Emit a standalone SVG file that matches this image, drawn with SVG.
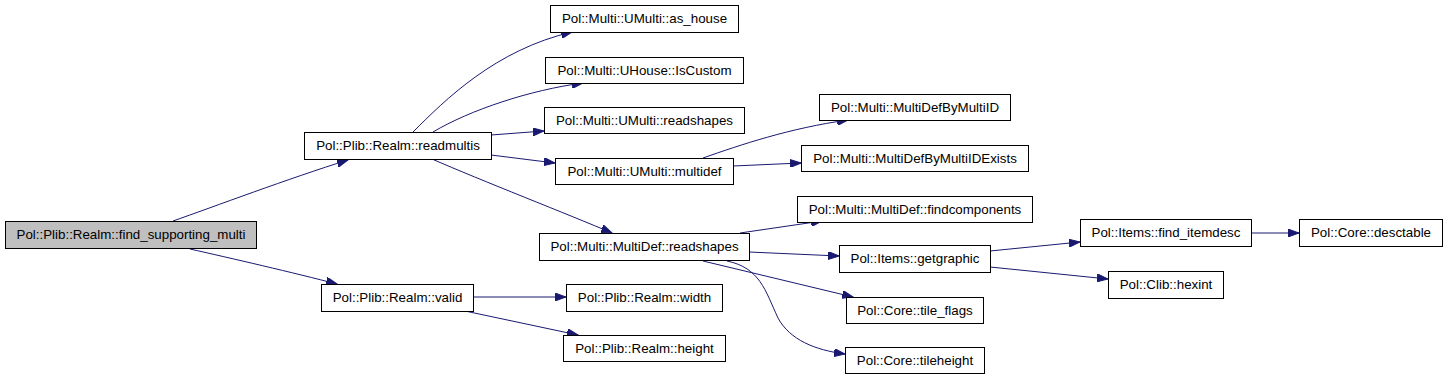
<svg xmlns="http://www.w3.org/2000/svg" width="1448" height="379" viewBox="0 0 1448 379">
<defs>
<style>
.n rect{fill:#ffffff;stroke:#000000;stroke-width:1}
.n.root rect{fill:#bfbfbf}
.n text{font-family:"Liberation Sans",Arial,sans-serif;font-size:13.33px;text-anchor:middle;fill:#000000}
.e path{fill:none;stroke:#191970;stroke-width:1;marker-end:url(#ah)}
</style>
<marker id="ah" markerUnits="userSpaceOnUse" markerWidth="12" markerHeight="8" refX="11" refY="4" orient="auto">
<path d="M0,0 L11,4 L0,8 z" fill="#191970" stroke="#191970" stroke-width="1"/>
</marker>
</defs>
<rect width="1448" height="379" fill="#ffffff"/>
<g id="edges" class="e">
<path d="M173,221 C213,207 290,178 348,160"/>
<path d="M190,249 C230,258 295,273 337,284"/>
<path d="M413,132 C445,100 495,50 572,32"/>
<path d="M433,132 C470,110 530,90 583,83"/>
<path d="M491,135 L544,131"/>
<path d="M491,155 L555,163"/>
<path d="M432,159 C480,180 570,215 612,233"/>
<path d="M473,297 L566,297"/>
<path d="M465,311 L578,335"/>
<path d="M703,158 C740,145 790,128 848,120"/>
<path d="M733,166 L801,163"/>
<path d="M740,233 L822,221"/>
<path d="M749,252 L839,256"/>
<path d="M703,261 L853,297"/>
<path d="M727,261 C760,268 765,290 778,318 C790,340 815,350 845,354"/>
<path d="M990,251 L1080,242"/>
<path d="M990,267 L1108,279"/>
<path d="M1251,233 L1299,233"/>
</g>
<g id="find_supporting_multi" class="n root"><rect x="5.5" y="221.5" width="251" height="27"/><text x="131" y="239">Pol::Plib::Realm::find_supporting_multi</text></g>
<g id="readmultis" class="n"><rect x="304.5" y="132.5" width="187" height="27"/><text x="398" y="150">Pol::Plib::Realm::readmultis</text></g>
<g id="as_house" class="n"><rect x="550.5" y="5.5" width="188" height="27"/><text x="644.5" y="23">Pol::Multi::UMulti::as_house</text></g>
<g id="IsCustom" class="n"><rect x="545.5" y="57.5" width="198" height="26"/><text x="644.5" y="75">Pol::Multi::UHouse::IsCustom</text></g>
<g id="umulti_readshapes" class="n"><rect x="544.5" y="107.5" width="200" height="26"/><text x="644.5" y="125">Pol::Multi::UMulti::readshapes</text></g>
<g id="multidef" class="n"><rect x="555.5" y="158.5" width="178" height="26"/><text x="644.5" y="176">Pol::Multi::UMulti::multidef</text></g>
<g id="multidef_readshapes" class="n"><rect x="539.5" y="233.5" width="210" height="27"/><text x="644.5" y="251">Pol::Multi::MultiDef::readshapes</text></g>
<g id="valid" class="n"><rect x="321.5" y="284.5" width="152" height="27"/><text x="397.5" y="302">Pol::Plib::Realm::valid</text></g>
<g id="width" class="n"><rect x="566.5" y="284.5" width="156" height="27"/><text x="644.5" y="302">Pol::Plib::Realm::width</text></g>
<g id="height" class="n"><rect x="563.5" y="335.5" width="162" height="26"/><text x="644.5" y="353">Pol::Plib::Realm::height</text></g>
<g id="MultiDefByMultiID" class="n"><rect x="819.5" y="94.5" width="191" height="26"/><text x="915" y="112">Pol::Multi::MultiDefByMultiID</text></g>
<g id="MultiDefByMultiIDExists" class="n"><rect x="801.5" y="145.5" width="227" height="26"/><text x="915" y="163">Pol::Multi::MultiDefByMultiIDExists</text></g>
<g id="findcomponents" class="n"><rect x="797.5" y="196.5" width="235" height="26"/><text x="915" y="214">Pol::Multi::MultiDef::findcomponents</text></g>
<g id="getgraphic" class="n"><rect x="839.5" y="245.5" width="151" height="27"/><text x="915" y="263">Pol::Items::getgraphic</text></g>
<g id="tile_flags" class="n"><rect x="846.5" y="297.5" width="137" height="26"/><text x="915" y="315">Pol::Core::tile_flags</text></g>
<g id="tileheight" class="n"><rect x="845.5" y="347.5" width="139" height="26"/><text x="915" y="365">Pol::Core::tileheight</text></g>
<g id="find_itemdesc" class="n"><rect x="1080.5" y="219.5" width="171" height="27"/><text x="1166" y="237">Pol::Items::find_itemdesc</text></g>
<g id="hexint" class="n"><rect x="1108.5" y="271.5" width="115" height="27"/><text x="1166" y="289">Pol::Clib::hexint</text></g>
<g id="desctable" class="n"><rect x="1299.5" y="219.5" width="143" height="27"/><text x="1371" y="237">Pol::Core::desctable</text></g>
</svg>
